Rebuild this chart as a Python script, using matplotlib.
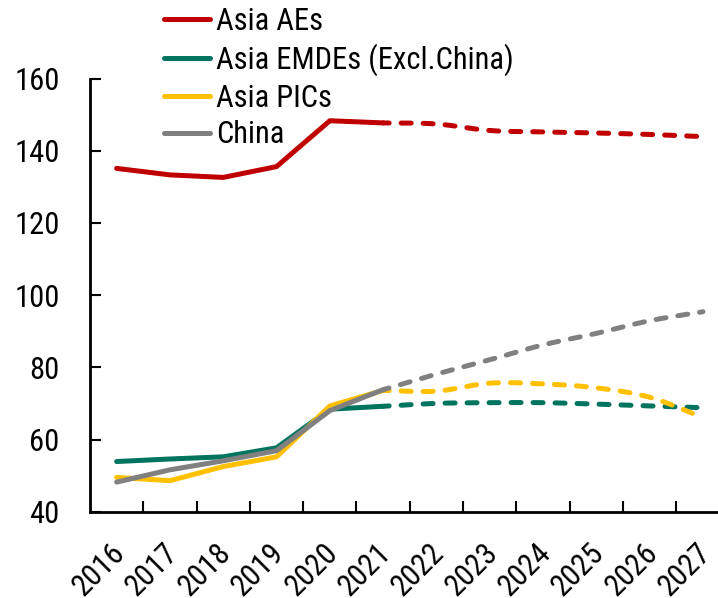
import numpy as np
import matplotlib
matplotlib.use("Agg")
import matplotlib.pyplot as plt
from matplotlib import font_manager
from matplotlib.transforms import offset_copy

# --- data -----------------------------------------------------------------
years = ["2016", "2017", "2018", "2019", "2020", "2021",
         "2022", "2023", "2024", "2025", "2026", "2027"]
n_actual = 6  # 2016-2021 observed, 2022-2027 projected

asia_aes = [135.1, 133.3, 132.6, 135.6, 148.3, 147.7,
            147.4, 145.6, 145.2, 144.9, 144.5, 143.9]
asia_emdes = [53.9, 54.6, 55.2, 57.7, 68.4, 69.2,
              70.0, 70.2, 70.2, 69.8, 69.3, 68.8]
asia_pics = [49.5, 48.6, 52.5, 55.2, 69.3, 73.6,
             73.4, 75.6, 75.4, 74.3, 71.7, 66.1]
china = [48.2, 51.6, 54.1, 56.9, 68.0, 73.8,
         78.1, 82.1, 86.2, 89.4, 92.9, 95.4]

series_names = ["Asia AEs", "Asia EMDEs (Excl.China)", "Asia PICs", "China"]
series_values = [asia_aes, asia_emdes, asia_pics, china]
series_colors = ["#C00000", "#00745F", "#FFC000", "#808080"]

y_ticks = [40, 60, 80, 100, 120, 140, 160]

# --- fonts ----------------------------------------------------------------
installed = {f.name for f in font_manager.fontManager.ttflist}
family = [f for f in ["Roboto Condensed", "Archivo Narrow", "Liberation Sans",
                      "DejaVu Sans"] if f in installed]
plt.rcParams["font.family"] = family
FS = 22


def smooth(x, y, per_seg=20):
    """Catmull-Rom curve through the given points (Excel-style smoothed line)."""
    x = np.asarray(x, float)
    y = np.asarray(y, float)
    px = np.concatenate([[2 * x[0] - x[1]], x, [2 * x[-1] - x[-2]]])
    py = np.concatenate([[2 * y[0] - y[1]], y, [2 * y[-1] - y[-2]]])
    xs, ys = [], []
    t = np.linspace(0, 1, per_seg, endpoint=False)
    for i in range(1, len(px) - 2):
        p0x, p1x, p2x, p3x = px[i - 1:i + 3]
        p0y, p1y, p2y, p3y = py[i - 1:i + 3]
        t2, t3 = t * t, t * t * t
        xs.append(0.5 * (2 * p1x + (-p0x + p2x) * t + (2 * p0x - 5 * p1x + 4 * p2x - p3x) * t2
                         + (-p0x + 3 * p1x - 3 * p2x + p3x) * t3))
        ys.append(0.5 * (2 * p1y + (-p0y + p2y) * t + (2 * p0y - 5 * p1y + 4 * p2y - p3y) * t2
                         + (-p0y + 3 * p1y - 3 * p2y + p3y) * t3))
    xs.append([x[-1]])
    ys.append([y[-1]])
    return np.concatenate(xs), np.concatenate(ys)


W, H = 718, 598
fig = plt.figure(figsize=(W / 100, H / 100), dpi=100)
ax_left, ax_bottom, ax_top = 90, 511.7, 78.5
ax_width = 12 * 53.3
ax = fig.add_axes([ax_left / W, 1 - ax_bottom / H,
                   ax_width / W, (ax_bottom - ax_top) / H])

x = np.arange(len(years))
LW = 3.6
for name, vals, col in zip(series_names, series_values, series_colors):
    vals = np.asarray(vals, float)
    ax.plot(x[:n_actual], vals[:n_actual], color=col, lw=LW,
            solid_capstyle="round", solid_joinstyle="round", label=name)
    sx, sy = smooth(x[n_actual - 1:], vals[n_actual - 1:])
    ax.plot(sx, sy, color=col, lw=LW, linestyle=(0.8, (2.0, 2.4)),
            dash_capstyle="round")

ax.set_xlim(-0.5, len(years) - 0.5)
ax.set_ylim(40, 160)
ax.set_yticks(y_ticks)
ax.set_yticklabels([str(v) for v in y_ticks], fontsize=FS)
ax.tick_params(axis="y", direction="in", length=8, width=1.5, pad=22)

ax.set_xticks(x)
ax.set_xticks(x[:-1] + 0.5, minor=True)
ax.tick_params(axis="x", which="major", length=0, pad=8)
ax.tick_params(axis="x", which="minor", direction="in", length=8, width=1.5)
ax.set_xticklabels(years, fontsize=FS, rotation=45, ha="right", va="top",
                   rotation_mode="anchor")
for lab in ax.get_xticklabels():
    lab.set_transform(offset_copy(lab.get_transform(), fig=fig, x=-7, y=-15, units="dots"))

for side in ("top", "right"):
    ax.spines[side].set_visible(False)
for side in ("left", "bottom"):
    ax.spines[side].set_linewidth(2)

leg = ax.legend(loc="upper left", bbox_to_anchor=(164 / W, 1 - 7 / H),
                bbox_transform=fig.transFigure, frameon=False, fontsize=FS,
                handlelength=1.5, handletextpad=0.2, labelspacing=0.25,
                borderpad=0, borderaxespad=0)

fig.savefig("out.png", dpi=100)
